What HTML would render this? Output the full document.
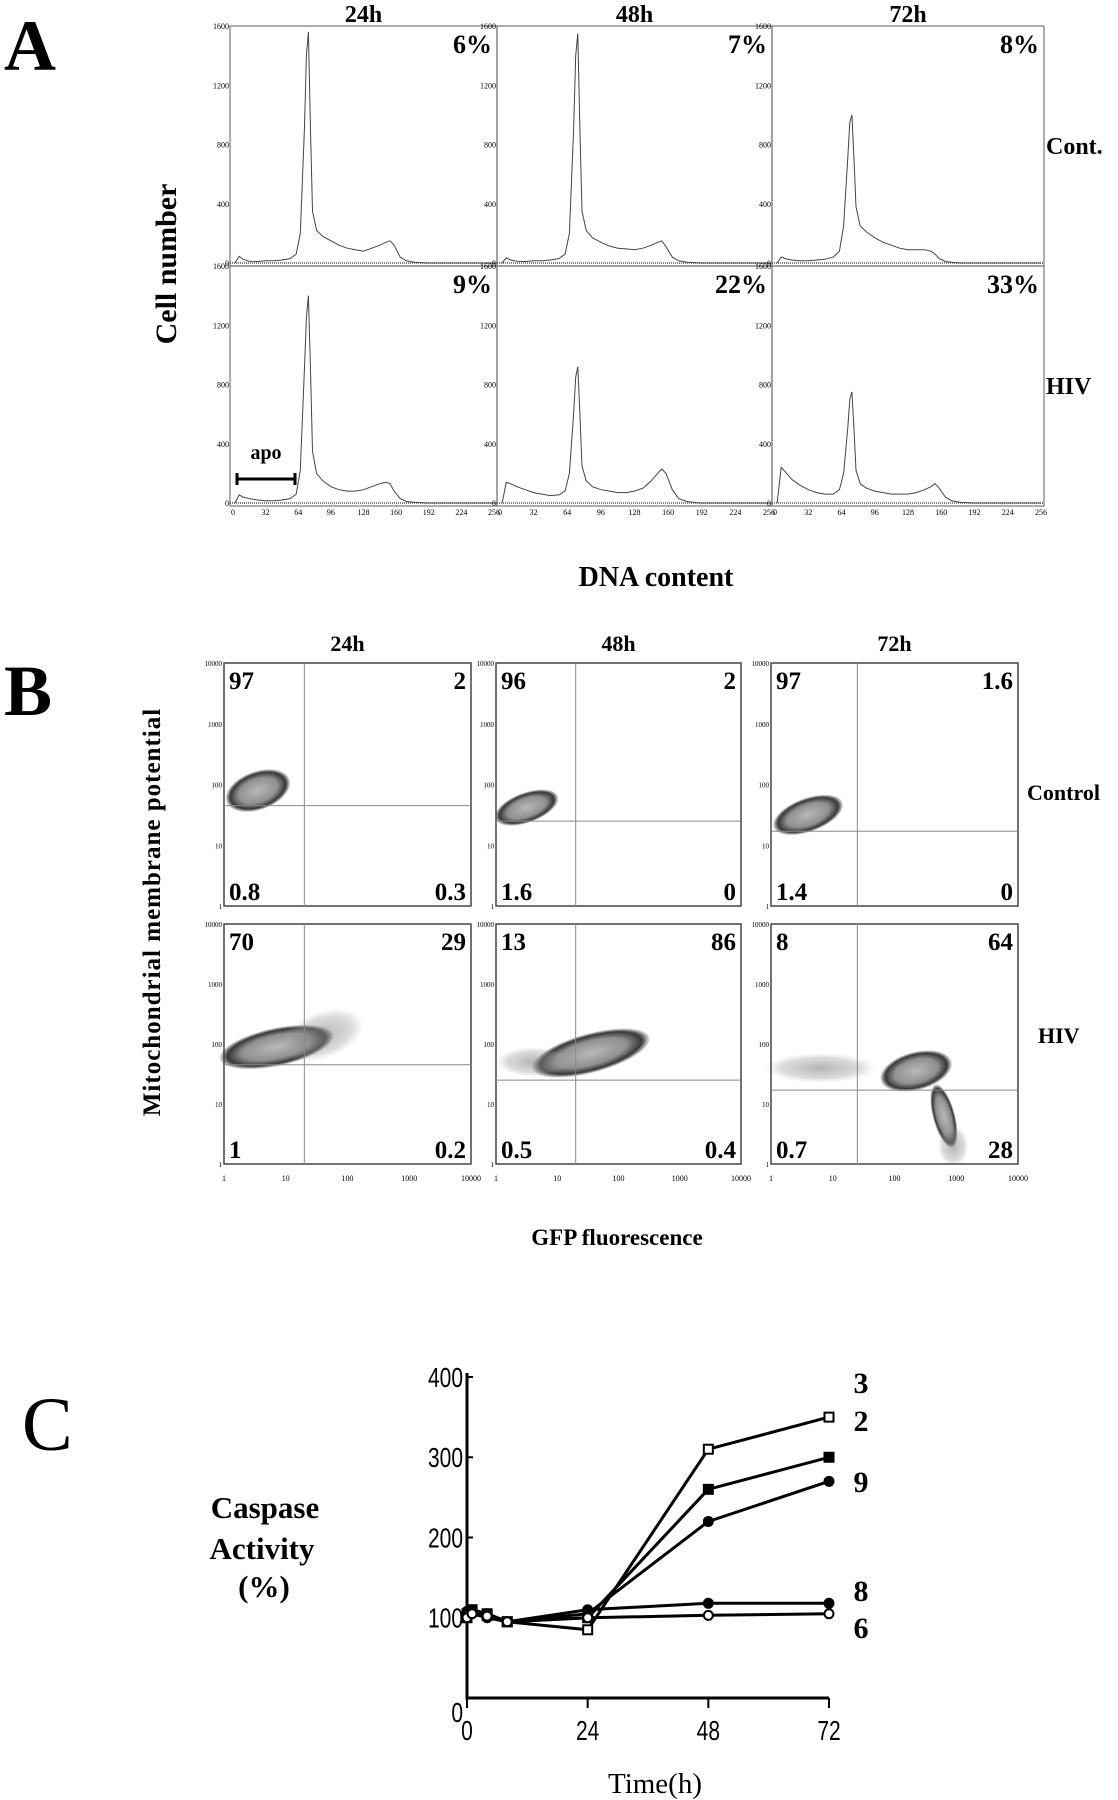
<!DOCTYPE html>
<html><head><meta charset="utf-8">
<style>
html,body{margin:0;padding:0;background:#fff;}
svg{display:block;}
.ser{font-family:"Liberation Serif",serif;font-weight:bold;fill:#000;}
.san{font-family:"Liberation Sans",sans-serif;fill:#000;}
</style></head>
<body>
<svg id="fig" width="1118" height="1800" viewBox="0 0 1118 1800" xmlns="http://www.w3.org/2000/svg">
<defs>
<radialGradient id="blob" cx="50%" cy="50%" r="50%">
<stop offset="0" stop-color="#b5b5b5" stop-opacity="0.95"/>
<stop offset="0.6" stop-color="#8a8a8a" stop-opacity="0.95"/>
<stop offset="0.85" stop-color="#222" stop-opacity="0.9"/>
<stop offset="1" stop-color="#000" stop-opacity="0"/>
</radialGradient>
<radialGradient id="sparse" cx="50%" cy="50%" r="50%">
<stop offset="0" stop-color="#777" stop-opacity="0.55"/>
<stop offset="0.7" stop-color="#999" stop-opacity="0.35"/>
<stop offset="1" stop-color="#bbb" stop-opacity="0"/>
</radialGradient>
</defs>
<text class="ser" x="4" y="70" font-size="72">A</text>
<text class="ser" x="4" y="715" font-size="72">B</text>
<text class="ser" x="22" y="1450" font-size="76" style="font-weight:normal">C</text>
<g id="ga"></g>
<g id="gb"></g>
<g id="gc"></g>
</svg>
<script>
const NS="http://www.w3.org/2000/svg";
// ---------- Panel A data ----------
const histChannels=[2,6,10,16,24,32,40,48,56,62,66,70,72,74,76,78,82,88,96,104,112,120,128,136,144,150,154,158,164,170,178,190,256];
const histCont24=[0,45,25,12,10,15,15,20,30,60,200,900,1400,1560,900,350,220,180,150,120,100,90,80,100,120,140,150,120,40,15,5,0,0];
const histCont48=[0,35,20,12,10,15,15,20,30,60,200,900,1400,1550,900,350,220,170,140,115,100,95,90,100,120,140,150,110,40,15,5,0,0];
const histCont72=[0,40,30,20,15,15,20,25,40,80,250,700,950,1000,700,380,250,210,170,140,120,100,90,90,90,80,60,30,10,5,0,0,0];
const histHiv24=[0,55,40,30,20,15,15,20,30,60,220,900,1250,1400,900,350,200,150,110,90,80,80,90,110,130,140,130,80,30,10,5,0,0];
const histHiv48=[0,140,130,110,90,70,60,50,55,80,200,600,850,920,600,250,150,110,90,80,70,70,80,100,150,200,230,200,90,30,10,0,0];
const histHiv72=[0,240,210,160,120,90,70,60,60,90,200,500,700,750,500,220,130,100,80,70,60,60,60,70,90,110,130,100,40,15,5,0,0];
const histTitles=["24h","48h","72h"];
const histPercents=[["6%","7%","8%"],["9%","22%","33%"]];
const histRows=["Cont.","HIV"];
const histXTicks=[0,32,64,96,128,160,192,224,256];
const histYTicks=[0,400,800,1200,1600];
// ---------- Panel B data ----------
const bTitles=["24h","48h","72h"];
const bRows=["Control","HIV"];
const bQuadUL=[["97","96","97"],["70","13","8"]];
const bQuadUR=[["2","2","1.6"],["29","86","64"]];
const bQuadLL=[["0.8","1.6","1.4"],["1","0.5","0.7"]];
const bQuadLR=[["0.3","0","0"],["0.2","0.4","28"]];
const bGateX=[20,20,25];
const bGateY=[45,25,17];
const bTicks=[1,10,100,1000,10000];
// clouds: [log10 x centre, log10 y centre, x radius (decades), y radius (decades), angle deg, kind]
const cloudsC24=[[0.55,1.9,0.55,0.32,-20,1]];
const cloudsC48=[[0.5,1.62,0.55,0.25,-20,1]];
const cloudsC72=[[0.6,1.5,0.6,0.28,-20,1]];
const cloudsH24=[[0.85,1.95,0.95,0.32,-12,1],[1.6,2.15,0.7,0.4,-20,0]];
const cloudsH48=[[1.55,1.85,1.0,0.33,-15,1],[0.6,1.7,0.6,0.25,0,0]];
const cloudsH72=[[2.35,1.55,0.6,0.32,-15,1],[2.8,0.8,0.18,0.55,-15,1],[0.8,1.6,0.9,0.25,0,0],[2.95,0.3,0.25,0.35,0,0]];
// ---------- Panel C data ----------
const cTimes=[0,1,4,8,24,48,72];
const cSeries3=[105,110,105,95,85,310,350];
const cSeries2=[100,108,103,95,100,260,300];
const cSeries9=[108,105,100,95,105,220,270];
const cSeries8=[105,110,105,95,110,118,118];
const cSeries6=[100,105,102,95,100,103,105];
const cNames=["3","2","9","8","6"];
const cYTicks=[0,100,200,300,400];
const cXTicks=[0,24,48,72];

function mk(tag,attrs,parent){const e=document.createElementNS(NS,tag);for(const k in attrs)e.setAttribute(k,attrs[k]);parent.appendChild(e);return e;}

// ===== Panel A =====
const ga=document.getElementById('ga');
const aCols=[230,497,772,1044], aRows=[26,266,506];
const histData=[[histCont24,histCont48,histCont72],[histHiv24,histHiv48,histHiv72]];
for(let r=0;r<2;r++)for(let c=0;c<3;c++){
  const L=aCols[c]+3,R=aCols[c+1]-3,T=aRows[r],B=aRows[r+1]-3;
  const xs=v=>L+v/256*(R-L), ys=v=>B-v/1600*(B-T);
  const fr=mk('rect',{x:aCols[c],y:aRows[r],width:aCols[c+1]-aCols[c],height:aRows[r+1]-aRows[r],fill:'none',stroke:'#777','stroke-width':1.2},ga);
  
  
  const base=mk('line',{x1:aCols[c],x2:aCols[c+1],y1:B,y2:B,stroke:'#555','stroke-width':1.5,'stroke-dasharray':'1 1'},ga);
  
  
  const d=histData[r][c];
  let p='';histChannels.forEach((ch,i)=>{p+=(i?'L':'M')+xs(ch).toFixed(1)+','+ys(d[i]).toFixed(1);});
  const path=mk('path',{d:p,fill:'none',stroke:'#444','stroke-width':1},ga);
  
  
  histYTicks.forEach(t=>{
    const tl=mk('text',{x:aCols[c]-1,y:ys(t)+3,'font-size':8,class:'ser','text-anchor':'end',fill:'#555',style:'font-weight:normal'},ga);tl.textContent=t;
    
    
  });
  if(r===1){histXTicks.forEach(t=>{
    const tl=mk('text',{x:xs(t),y:B+12,'font-size':8,class:'ser','text-anchor':'middle',fill:'#555',style:'font-weight:normal'},ga);tl.textContent=t;
    
    
  });}
  const pc=mk('text',{x:aCols[c+1]-5,y:aRows[r]+27,'font-size':26,class:'ser','text-anchor':'end'},ga);pc.textContent=histPercents[r][c];
  
  
}
histTitles.forEach((t,c)=>{const e=mk('text',{x:(aCols[c]+aCols[c+1])/2,y:22,'font-size':24,class:'ser','text-anchor':'middle'},ga);e.textContent=t;
  
  });
histRows.forEach((t,r)=>{const e=mk('text',{x:1046,y:(aRows[r]+aRows[r+1])/2+8,'font-size':24,class:'ser'},ga);e.textContent=t;
  
  });
{const e=mk('text',{x:0,y:0,'font-size':30,class:'ser','text-anchor':'middle',transform:'translate(176,264) rotate(-90)'},ga);e.textContent='Cell number';
 
 }
{const e=mk('text',{x:656,y:586,'font-size':28,class:'ser','text-anchor':'middle'},ga);e.textContent='DNA content';
 
 }
{const xs0=237, xs1=295;
 const e=mk('path',{d:`M${xs0},479H${xs1}M${xs0},473V485M${xs1},473V485`,stroke:'#000','stroke-width':3,fill:'none'},ga);
 
 
 const t=mk('text',{x:(xs0+xs1)/2,y:459,'font-size':20,class:'ser','text-anchor':'middle'},ga);t.textContent='apo';
 
 }

// ===== Panel B =====
const gb=document.getElementById('gb');
const bCols=[[224,471],[496,741],[771,1018]], bRowsY=[[663,906],[924,1164]];
const clouds=[[cloudsC24,cloudsC48,cloudsC72],[cloudsH24,cloudsH48,cloudsH72]];
for(let r=0;r<2;r++)for(let c=0;c<3;c++){
  const [L,R]=bCols[c],[T,B]=bRowsY[r];
  const xs=v=>L+Math.log10(v)/4*(R-L), ys=v=>B-Math.log10(v)/4*(B-T);
  const xd=d=>d/4*(R-L), yd=d=>d/4*(B-T);
  clouds[r][c].forEach(cl=>{
    const cx=xs(Math.pow(10,cl[0])),cy=ys(Math.pow(10,cl[1]));
    const e=mk('ellipse',{cx:cx,cy:cy,rx:xd(cl[2]),ry:yd(cl[3]),fill:cl[5]?'url(#blob)':'url(#sparse)',transform:`rotate(${cl[4]} ${cx} ${cy})`},gb);
    
    
  });
  const fr=mk('rect',{x:L,y:T,width:R-L,height:B-T,fill:'none',stroke:'#444','stroke-width':1.5},gb);
  
  
  const vx=mk('line',{x1:xs(bGateX[c]),x2:xs(bGateX[c]),y1:T,y2:B,stroke:'#888','stroke-width':1},gb);
  
  
  const hy=mk('line',{x1:L,x2:R,y1:ys(bGateY[c]),y2:ys(bGateY[c]),stroke:'#888','stroke-width':1},gb);
  
  
  bTicks.forEach(t=>{
    const tl=mk('text',{x:L-2,y:ys(t)+3,'font-size':7,class:'ser','text-anchor':'end',fill:'#555',style:'font-weight:normal'},gb);tl.textContent=t;
    
    
    if(r===1){const tx=mk('text',{x:xs(t),y:B+17,'font-size':8,class:'ser','text-anchor':'middle',fill:'#555',style:'font-weight:normal'},gb);tx.textContent=t;
      
      }
  });
  const q=[[bQuadUL,L+5,T+26,'start'],[bQuadUR,R-5,T+26,'end'],[bQuadLL,L+5,B-6,'start'],[bQuadLR,R-5,B-6,'end']];
  q.forEach(([arr,x,y,a])=>{const e=mk('text',{x:x,y:y,'font-size':25,class:'ser','text-anchor':a},gb);e.textContent=arr[r][c];
    
    });
}
bTitles.forEach((t,c)=>{const e=mk('text',{x:(bCols[c][0]+bCols[c][1])/2,y:651,'font-size':22,class:'ser','text-anchor':'middle'},gb);e.textContent=t;
  
  });
bRows.forEach((t,r)=>{const e=mk('text',{x:r?1038:1027,y:r?1043:800,'font-size':22,class:'ser'},gb);e.textContent=t;
  
  });
{const e=mk('text',{x:0,y:0,'font-size':25,class:'ser','text-anchor':'middle',transform:'translate(160,912) rotate(-90)','letter-spacing':'1'},gb);e.textContent='Mitochondrial membrane potential';
 
 }
{const e=mk('text',{x:617,y:1245,'font-size':23,class:'ser','text-anchor':'middle'},gb);e.textContent='GFP fluorescence';
 
 }

// ===== Panel C =====
const gc=document.getElementById('gc');
const cx0=467,cx1=829,cy0=1698,cy1=1377;
const cxs=v=>cx0+v/72*(cx1-cx0), cys=v=>cy0-v/400*(cy0-cy1);
{const e=mk('path',{d:`M${cx0},${cy1-4}V${cy0}H${cx1}`,stroke:'#000','stroke-width':3,fill:'none'},gc);
 
 }
cYTicks.forEach(t=>{
  const l=mk('line',{x1:cx0,x2:cx0+6,y1:cys(t),y2:cys(t),stroke:'#000','stroke-width':2},gc);
  
  
  const e=mk('text',{x:cx0-4,y:cys(t)+10+(t===0?14:0),'font-size':28,class:'san','text-anchor':'end',transform:`translate(${(cx0-4)*0.25},0) scale(0.75,1)`},gc);e.textContent=t;
  
  
});
cXTicks.forEach(t=>{
  const l=mk('line',{x1:cxs(t),x2:cxs(t),y1:cy0,y2:cy0+10,stroke:'#000','stroke-width':2},gc);
  
  
  const e=mk('text',{x:cxs(t),y:1740,'font-size':28,class:'san','text-anchor':'middle',transform:`translate(${cxs(t)*0.25},0) scale(0.75,1)`},gc);e.textContent=t;
  
  
});
const cAll=[cSeries3,cSeries2,cSeries9,cSeries8,cSeries6];
const markers=['sq-open','sq-fill','circ-fill','circ-fill','circ-open'];
cAll.forEach((s,k)=>{
  let d='';s.forEach((v,i)=>{d+=(i?'L':'M')+cxs(cTimes[i]).toFixed(1)+','+cys(v).toFixed(1);});
  const p=mk('path',{d:d,stroke:'#000','stroke-width':3,fill:'none','stroke-linejoin':'round'},gc);
  
  
  s.forEach((v,i)=>{
    const x=cxs(cTimes[i]),y=cys(v);const m=markers[k];
    let e;
    if(m.startsWith('sq'))e=mk('rect',{x:x-4.5,y:y-4.5,width:9,height:9,fill:m==='sq-fill'?'#000':'#fff',stroke:'#000','stroke-width':2},gc);
    else e=mk('circle',{cx:x,cy:y,r:4.5,fill:m==='circ-fill'?'#000':'#fff',stroke:'#000','stroke-width':2},gc);
    
    
  });
});
const cLabelY=[1393,1431,1492,1601,1638];
cNames.forEach((n,k)=>{const e=mk('text',{x:861,y:cLabelY[k],'font-size':30,class:'ser','text-anchor':'middle'},gc);e.textContent=n;
  
  });
[['Caspase',1518,265],['Activity',1559,262],['(%)',1597,264]].forEach(([t,y,x])=>{
  const e=mk('text',{x:x,y:y,'font-size':31,class:'ser','text-anchor':'middle'},gc);e.textContent=t;
  
  });
{const e=mk('text',{x:655,y:1793,'font-size':29,class:'ser','text-anchor':'middle',style:'font-weight:normal'},gc);e.textContent='Time(h)';
 
 }
</script>
</body></html>
